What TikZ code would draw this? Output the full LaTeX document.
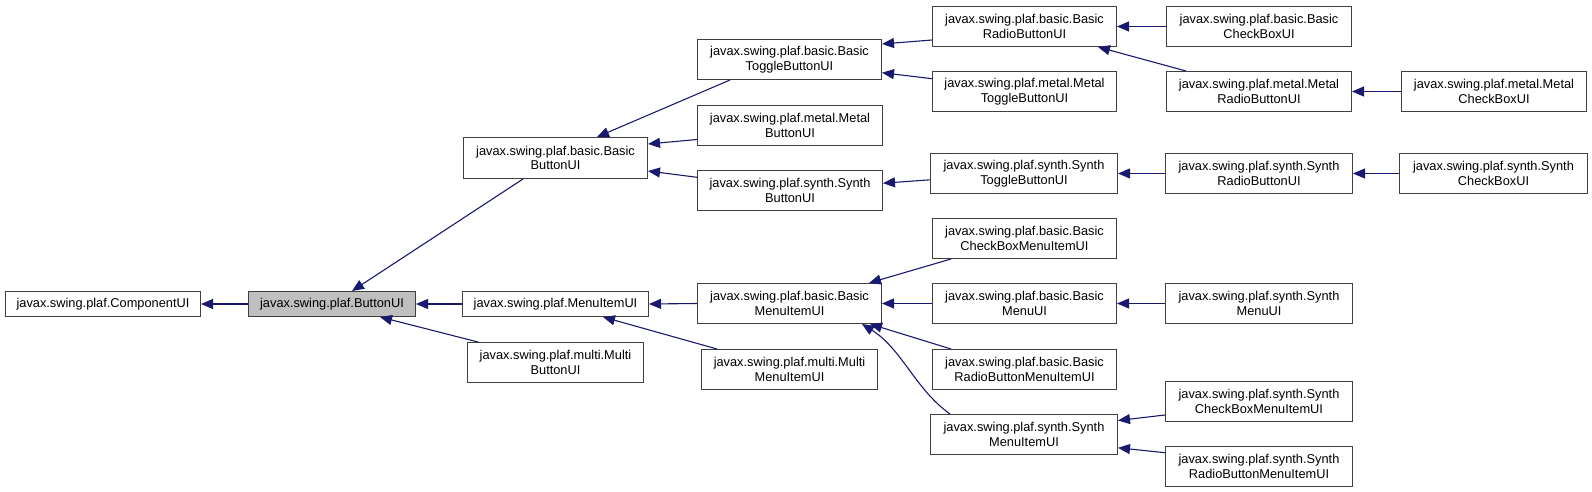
\documentclass[tikz,border=0pt]{standalone}
\usepackage{fontspec}
\setmainfont{Liberation Sans}
\usetikzlibrary{arrows.meta,calc}
\definecolor{edgeblue}{RGB}{25,25,112}
\definecolor{boxline}{RGB}{64,64,64}
\definecolor{hlgray}{RGB}{191,191,191}
\tikzset{
  cls/.style={draw=boxline, line width=1pt, anchor=north west, inner sep=0pt,
    align=center, font=\fontsize{12.8}{14.5}\selectfont, text=black},
  inh/.style={draw=edgeblue, line width=1.1pt, -{Triangle[length=12pt,width=10pt]}, fill=none}
}
\begin{document}
\begin{tikzpicture}[x=1pt,y=-1pt]
\useasboundingbox (0,0) rectangle (1592,492);
% rank 0/1
\node[cls, minimum width=195, minimum height=25] (comp) at (5,291) {javax.swing.plaf.ComponentUI};
\node[cls, fill=hlgray, minimum width=167, minimum height=25] (btn) at (248,291) {javax.swing.plaf.ButtonUI};
% rank 2
\node[cls, minimum width=184, minimum height=41] (bbtn) at (463,137) {javax.swing.plaf.basic.Basic\\ButtonUI};
\node[cls, minimum width=186, minimum height=25] (menu) at (462,291) {javax.swing.plaf.MenuItemUI};
\node[cls, minimum width=176, minimum height=40] (mbtn) at (467,342) {javax.swing.plaf.multi.Multi\\ButtonUI};
% rank 3
\node[cls, minimum width=184, minimum height=40] (btog) at (697,39) {javax.swing.plaf.basic.Basic\\ToggleButtonUI};
\node[cls, minimum width=185, minimum height=40] (metbtn) at (697,105) {javax.swing.plaf.metal.Metal\\ButtonUI};
\node[cls, minimum width=185, minimum height=40] (sbtn) at (697,170) {javax.swing.plaf.synth.Synth\\ButtonUI};
\node[cls, minimum width=184, minimum height=40] (bmi) at (697,283) {javax.swing.plaf.basic.Basic\\MenuItemUI};
\node[cls, minimum width=176, minimum height=40] (multimi) at (701,349) {javax.swing.plaf.multi.Multi\\MenuItemUI};
% rank 4
\node[cls, minimum width=184, minimum height=40] (bradio) at (932,6) {javax.swing.plaf.basic.Basic\\RadioButtonUI};
\node[cls, minimum width=184, minimum height=40] (mtog) at (932,71) {javax.swing.plaf.metal.Metal\\ToggleButtonUI};
\node[cls, minimum width=187, minimum height=40] (stog) at (930,153) {javax.swing.plaf.synth.Synth\\ToggleButtonUI};
\node[cls, minimum width=184, minimum height=40] (bcbmi) at (932,218) {javax.swing.plaf.basic.Basic\\CheckBoxMenuItemUI};
\node[cls, minimum width=184, minimum height=40] (bmenu) at (932,283) {javax.swing.plaf.basic.Basic\\MenuUI};
\node[cls, minimum width=184, minimum height=40] (brbmi) at (932,349) {javax.swing.plaf.basic.Basic\\RadioButtonMenuItemUI};
\node[cls, minimum width=187, minimum height=40] (smi) at (930,414) {javax.swing.plaf.synth.Synth\\MenuItemUI};
% rank 5
\node[cls, minimum width=185, minimum height=40] (bcb) at (1166,6) {javax.swing.plaf.basic.Basic\\CheckBoxUI};
\node[cls, minimum width=185, minimum height=40] (mradio) at (1166,71) {javax.swing.plaf.metal.Metal\\RadioButtonUI};
\node[cls, minimum width=187, minimum height=40] (sradio) at (1165,153) {javax.swing.plaf.synth.Synth\\RadioButtonUI};
\node[cls, minimum width=187, minimum height=40] (smenu) at (1165,283) {javax.swing.plaf.synth.Synth\\MenuUI};
\node[cls, minimum width=187, minimum height=40] (scbmi) at (1165,381) {javax.swing.plaf.synth.Synth\\CheckBoxMenuItemUI};
\node[cls, minimum width=187, minimum height=40] (srbmi) at (1165,446) {javax.swing.plaf.synth.Synth\\RadioButtonMenuItemUI};
% rank 6
\node[cls, minimum width=185, minimum height=40] (mcb) at (1401,71) {javax.swing.plaf.metal.Metal\\CheckBoxUI};
\node[cls, minimum width=188, minimum height=40] (scb) at (1399,153) {javax.swing.plaf.synth.Synth\\CheckBoxUI};
% edges
\draw[inh] (btn.west) -- (comp.east);
\draw[inh] ($(bbtn.south west)+(60,0)$) -- ($(btn.north west)+(104,0)$);
\draw[inh] (menu.west) -- (btn.east);
\draw[inh] ($(mbtn.north west)+(11,0)$) -- ($(btn.south west)+(132,0)$);
\draw[inh] ($(btog.south west)+(33,0)$) -- ($(bbtn.north west)+(134,0)$);
\draw[inh] ($(metbtn.south west)+(0,-6.5)$) -- ($(bbtn.north east)+(0,7)$);
\draw[inh] ($(sbtn.north west)+(0,7.3)$) -- ($(bbtn.south east)+(0,-8)$);
\draw[inh] ($(bradio.south west)+(0,-7)$) -- ($(btog.north east)+(0,5)$);
\draw[inh] ($(mtog.north west)+(0,7.7)$) -- ($(btog.south east)+(0,-7.3)$);
\draw[inh] (bcb.west) -- (bradio.east);
\draw[inh] ($(mradio.north west)+(20,0)$) -- ($(bradio.south east)+(-19,0)$);
\draw[inh] (mcb.west) -- (mradio.east);
\draw[inh] ($(stog.west)+(0,6.3)$) -- ($(sbtn.east)+(0,-7.3)$);
\draw[inh] (sradio.west) -- (stog.east);
\draw[inh] (scb.west) -- (sradio.east);
\draw[inh] (bmi.west) -- (menu.east);
\draw[inh] ($(multimi.north west)+(16,0)$) -- ($(menu.south west)+(141,0)$);
\draw[inh] ($(bcbmi.south west)+(19,0)$) -- ($(bmi.north east)+(-13,0)$);
\draw[inh] (bmenu.west) -- (bmi.east);
\draw[inh] (smenu.west) -- (bmenu.east);
\draw[inh] ($(brbmi.north west)+(19,0)$) -- ($(bmi.south east)+(-12,0)$);
\draw[inh] ($(smi.north west)+(20,0)$) .. controls +(-35,-25) and +(40,25) .. ($(bmi.south east)+(-20,0)$);
\draw[inh] ($(scbmi.south west)+(0,-7)$) -- ($(smi.east)+(0,-14)$);
\draw[inh] ($(srbmi.north west)+(0,6.7)$) -- ($(smi.east)+(0,13.3)$);
\end{tikzpicture}
\end{document}
